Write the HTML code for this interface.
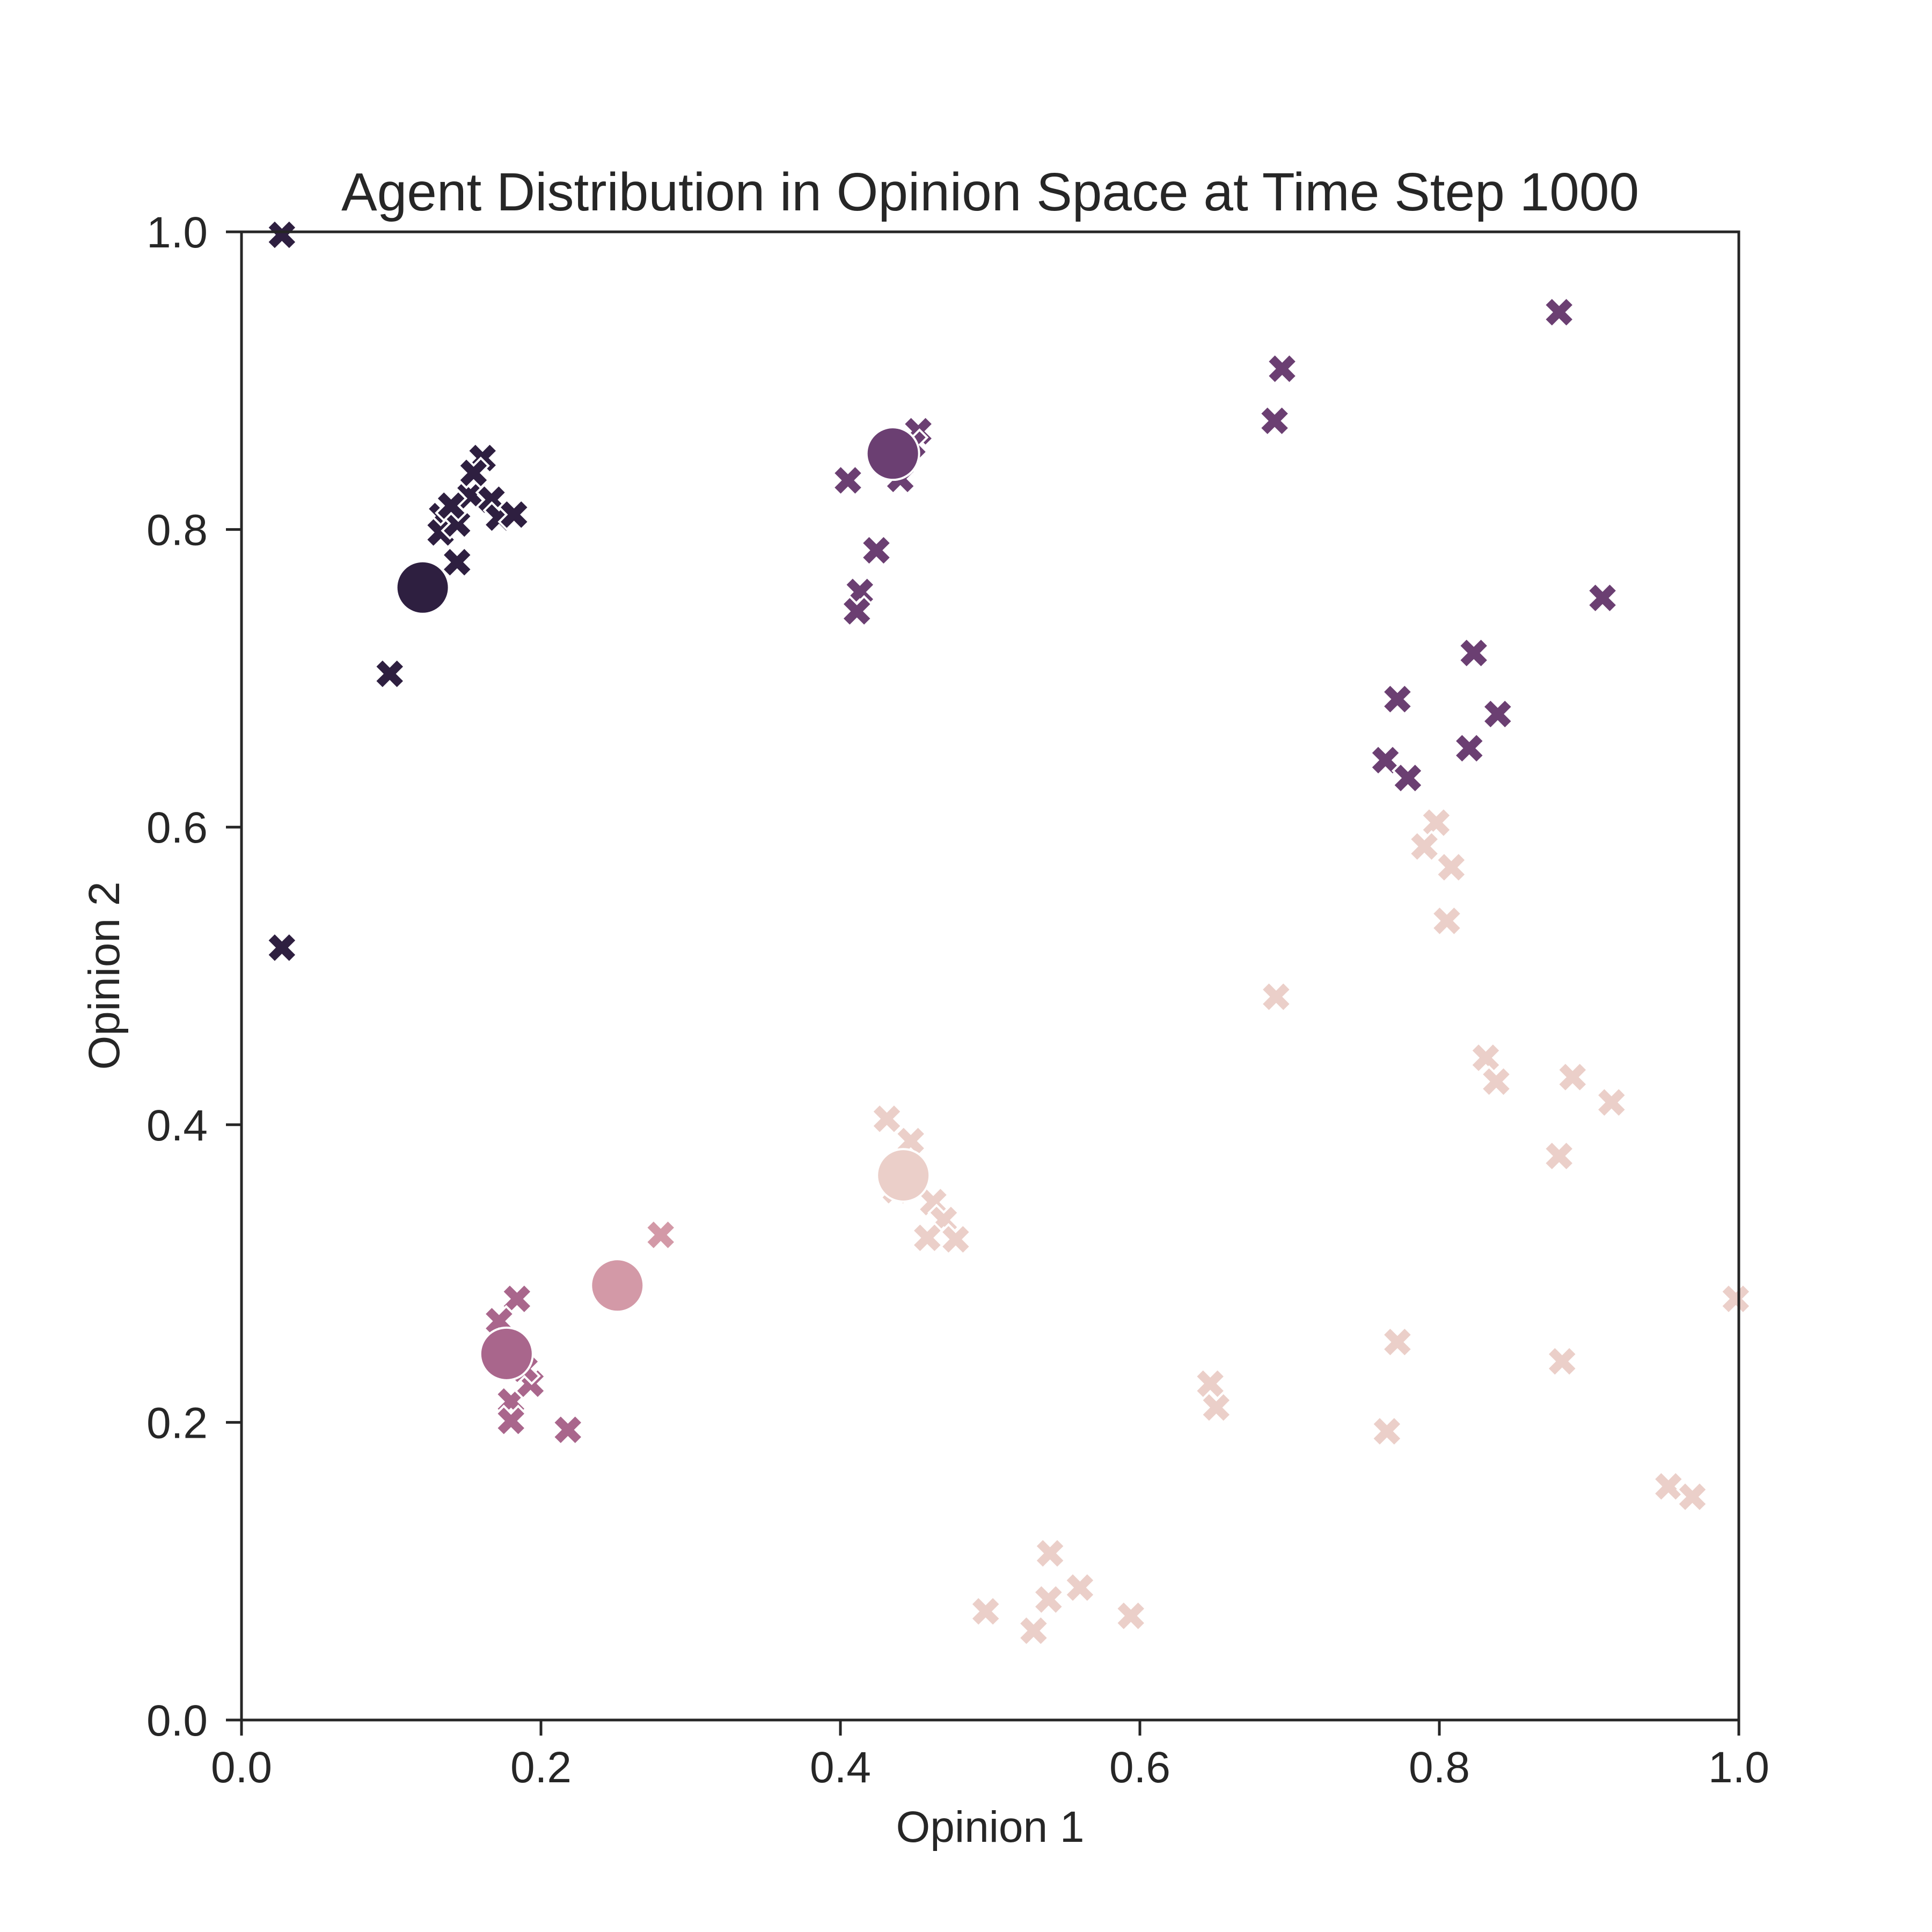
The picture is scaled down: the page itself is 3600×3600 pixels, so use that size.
<!DOCTYPE html>
<html><head><meta charset="utf-8"><style>
html,body{margin:0;padding:0;background:#fff;}
svg{display:block;}
text{font-family:"Liberation Sans",Arial,sans-serif;fill:#262626;}
</style></head><body>
<svg id="chart" width="3600" height="3600" viewBox="0 0 3600 3600" xmlns="http://www.w3.org/2000/svg">
<rect width="3600" height="3600" fill="#fff"/>
<text x="1845" y="392" font-size="100" text-anchor="middle">Agent Distribution in Opinion Space at Time Step 1000</text>
<g id="marks"></g>
<g id="axes"></g>
<text x="1845" y="3432" font-size="82" text-anchor="middle">Opinion 1</text>
<text x="0" y="0" font-size="82" text-anchor="middle" transform="translate(222,1818) rotate(-90)">Opinion 2</text>
</svg>
<script>
const colors = ["#2e1f40","#6b3f72","#a9668c","#d399a7","#ebcfc9"];
const agentX = [0.027,0.027,0.099,0.144,0.134,0.133,0.144,0.153,0.161,0.155,0.167,0.172,0.182,0.140,
 0.405,0.424,0.413,0.411,0.440,0.452,0.448,0.690,0.695,0.880,0.909,0.823,0.772,0.839,0.820,0.764,0.779,
 0.184,0.172,0.180,0.180,0.193,0.189,0.218,
 0.280,
 0.431,0.447,0.462,0.469,0.458,0.477,0.437,0.691,0.798,0.790,0.808,0.805,0.831,0.838,0.889,0.915,0.880,0.998,0.772,0.882,0.765,0.647,0.651,0.540,0.539,0.560,0.497,0.529,0.594,0.953,0.969];
const agentY = [0.998,0.519,0.703,0.778,0.809,0.798,0.804,0.823,0.848,0.838,0.820,0.808,0.810,0.816,
 0.833,0.786,0.758,0.745,0.834,0.866,0.857,0.873,0.908,0.946,0.754,0.717,0.686,0.676,0.653,0.645,0.633,
 0.283,0.268,0.214,0.201,0.226,0.236,0.195,
 0.326,
 0.404,0.389,0.348,0.336,0.324,0.323,0.356,0.486,0.603,0.587,0.573,0.537,0.445,0.429,0.432,0.415,0.379,0.283,0.254,0.241,0.194,0.226,0.210,0.112,0.081,0.089,0.073,0.060,0.070,0.157,0.150];
const agentGroup = [0,0,0,0,0,0,0,0,0,0,0,0,0,0,
 1,1,1,1,1,1,1,1,1,1,1,1,1,1,1,1,1,
 2,2,2,2,2,2,2,
 3,
 4,4,4,4,4,4,4,4,4,4,4,4,4,4,4,4,4,4,4,4,4,4,4,4,4,4,4,4,4,4,4];
const centerX = [0.121,0.435,0.177,0.251,0.442];
const centerY = [0.761,0.851,0.246,0.292,0.366];
const xTicks = [0.0,0.2,0.4,0.6,0.8,1.0];
const yTicks = [0.0,0.2,0.4,0.6,0.8,1.0];
const xTickLabels = ["0.0","0.2","0.4","0.6","0.8","1.0"];
const yTickLabels = ["0.0","0.2","0.4","0.6","0.8","1.0"];

const L=450,R=3240,T=432,B=3205;
const sx=v=>L+v*(R-L);
const sy=v=>B-v*(B-T);
const NS="http://www.w3.org/2000/svg";
const marks=document.getElementById('marks');
const axes=document.getElementById('axes');
function mk(tag,attrs,parent){const e=document.createElementNS(NS,tag);for(const k in attrs)e.setAttribute(k,attrs[k]);parent.appendChild(e);return e;}
const h=29,w=10;
const base=[[-w,-h],[w,-h],[w,-w],[h,-w],[h,w],[w,w],[w,h],[-w,h],[-w,w],[-h,w],[-h,-w],[-w,-w]];
const c=Math.SQRT1_2;
const xpts=base.map(([a,b])=>[(a-b)*c,(a+b)*c]);
for(let i=0;i<agentX.length;i++){
  const cx=sx(agentX[i]),cy=sy(agentY[i]);
  const p=mk('polygon',{points:xpts.map(([a,b])=>(cx+a).toFixed(1)+','+(cy+b).toFixed(1)).join(' '),fill:colors[agentGroup[i]],stroke:'#fff','stroke-width':4,'stroke-linejoin':'miter'},marks);
  
  
}
for(let i=0;i<centerX.length;i++){
  const e=mk('circle',{cx:sx(centerX[i]),cy:sy(centerY[i]),r:49,fill:colors[i],stroke:'#fff','stroke-width':4},marks);
  
  
}
const fr=mk('rect',{x:L,y:T,width:R-L,height:B-T,fill:'none',stroke:'#262626','stroke-width':5},axes);


xTicks.forEach((v,i)=>{
  const x=sx(v);
  const t=mk('line',{x1:x,x2:x,y1:B,y2:B+29,stroke:'#262626','stroke-width':5},axes);
  
  
  const l=mk('text',{x:x,y:3321,'font-size':82,'text-anchor':'middle'},axes);
  l.textContent=xTickLabels[i];
  
  
});
yTicks.forEach((v,i)=>{
  const y=sy(v);
  const t=mk('line',{x1:L-29,x2:L,y1:y,y2:y,stroke:'#262626','stroke-width':5},axes);
  
  
  const l=mk('text',{x:387,y:y+29,'font-size':82,'text-anchor':'end'},axes);
  l.textContent=yTickLabels[i];
  
  
});
</script>
</body></html>
